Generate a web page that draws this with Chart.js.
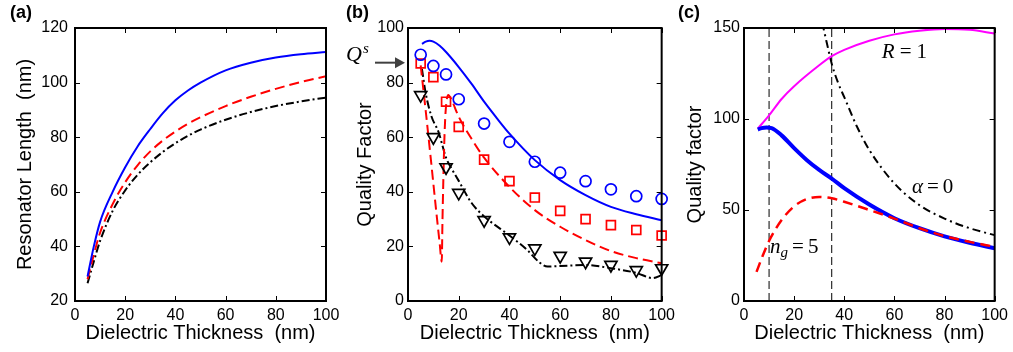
<!DOCTYPE html>
<html lang="en">
<head>
<meta charset="UTF-8">
<title>Resonator length and quality factor vs dielectric thickness</title>
<script src="https://cdn.jsdelivr.net/npm/chart.js"></script>
<style>
  body { margin: 0; background: #fff; }
  #wrap { position: relative; width: 1013px; height: 352px; overflow: hidden; background: #fff; }
  canvas { position: absolute; top: 0; }
  .tag { position: absolute; top: 3px; font: bold 18px/18px "Liberation Sans", Arial, sans-serif; color: #000; }
</style>
</head>
<body>
<div id="wrap">
  <canvas id="chartA" width="345" height="352" style="left:0"></canvas>
  <canvas id="chartB" width="340" height="352" style="left:340px"></canvas>
  <canvas id="chartC" width="343" height="352" style="left:670px"></canvas>
  <div class="tag" style="left:10px">(a)</div>
  <div class="tag" style="left:346px">(b)</div>
  <div class="tag" style="left:678px">(c)</div>
</div>

<script>
// ---- panel (a): resonator length (nm)
const lenX = [5, 7.5, 10, 15, 20, 25, 30, 35, 40, 45, 50, 60, 70, 80, 90, 100];
const lenBlue = [29, 40, 49, 60, 69, 76.7, 83, 88.8, 93.5, 97.1, 100, 104.5, 107.3, 109.2, 110.4, 111.2];
const lenRed = [28, 37, 45, 55.5, 63.5, 69.8, 74.8, 78.8, 82.1, 84.9, 87.3, 91.4, 94.8, 97.7, 100.2, 102.3];
const lenBlack = [26.5, 34.5, 42, 53, 60.5, 66.3, 70.8, 74.6, 77.8, 80.5, 82.8, 86.4, 89.2, 91.4, 93.1, 94.5];

// ---- panel (b): quality factor, curves + simulated points
const qBlueX = [5.5, 7, 8.5, 10, 12.5, 15, 20, 25, 30, 35, 40, 50, 60, 70, 80, 90, 100];
const qBlueY = [94.2, 95, 95.3, 95, 93.5, 91.2, 85.7, 79.6, 73, 67, 61.3, 51.6, 44.3, 38.8, 34.5, 31.8, 29.6];
const qRedX = [5, 7, 9, 11, 12.5, 13.3, 13.6, 13.9, 14.3, 14.8, 15.9, 17, 20, 25, 30, 40, 50, 60, 70, 80, 90, 100];
const qRedY = [86.3, 69.5, 52, 34, 21, 14.4, 30, 43, 58, 69, 75.5, 74, 67.5, 59.5, 52.5, 41.8, 33.3, 27.2, 22.3, 18.3, 15.7, 13.8];
const qBlackX = [5.5, 7, 9.3, 12, 15, 17.5, 20, 25, 30, 40, 47, 52, 55, 60, 70, 80, 90, 96.5, 100];
const qBlackY = [85, 76, 67.5, 62, 52.5, 48, 44, 36, 31, 24, 18.7, 14, 12.6, 12.8, 13.2, 12, 10.3, 8.4, 9.5];

const simX = [5, 10, 15, 20, 30, 40, 50, 60, 70, 80, 90, 100];
const simCircle = [90.2, 86.1, 83, 73.9, 65, 58.3, 51, 47, 43.9, 40.9, 38.4, 37.4];
const simSquare = [87, 82, 73, 63.8, 51.8, 43.9, 37.9, 33, 30, 27.8, 26, 24];
const simTriangle = [75.4, 60, 49, 39.6, 29.6, 23.3, 19.3, 16.5, 14.4, 13.2, 11.3, 12];
const qsLevel = 87.3;

// ---- panel (c): quality factor limits
const cMagX = [5.5, 10, 15, 20, 30, 35, 40, 50, 60, 70, 80, 90, 100];
const cMagY = [94.7, 102, 111, 118, 129.5, 134.5, 138, 143, 146.5, 148.5, 149.5, 149, 147];
const cBlueX = [5.5, 7, 9, 11, 15, 20, 25, 30, 35, 40, 50, 60, 70, 80, 90, 100];
const cBlueY = [94.2, 95, 95.3, 95, 91, 84, 77.5, 72, 67.3, 62, 53, 45.5, 40, 35.5, 32, 29];
const cRedX = [5, 7.5, 10, 15, 20, 25, 30, 35, 40, 50, 60, 70, 80, 90, 100];
const cRedY = [16, 25, 33, 44.5, 52, 56, 57.2, 56.5, 54.5, 50, 45.3, 40, 35.7, 32.5, 29.8];
const cAlphaX = [31.2, 33, 35, 37.5, 40, 45, 50, 60, 70, 80, 90, 100];
const cAlphaY = [153, 142, 130.4, 120, 112, 96, 83, 64.6, 52.7, 45.3, 40, 36.2];
const cMarkX = [10, 35];
const cMarkY = [0, 150];

const sans = '"Liberation Sans", Arial, Helvetica, sans-serif';
const serif = '"Liberation Serif", "Times New Roman", serif';
const tickFont = { family: sans, size: 16 };
const titleFont = { family: sans, size: 20 };

function pts(xs, ys) {
    return xs.map((x, i) => ({ x: x, y: ys[i] }));
}

function curve(xs, ys, color, width, dash) {
    return {
        data: pts(xs, ys), borderColor: color, borderWidth: width, borderDash: dash || [],
        pointRadius: 0, fill: false, cubicInterpolationMode: 'monotone',
        xAxisID: 'x', yAxisID: 'y'
    };
}

function marks(xs, ys, color, style, radius, rotation) {
    return {
        data: pts(xs, ys), showLine: false, borderColor: color, backgroundColor: 'rgba(0,0,0,0)',
        pointBorderColor: color, pointBackgroundColor: 'rgba(0,0,0,0)', pointBorderWidth: 1.7,
        pointStyle: style, pointRadius: radius, pointRotation: rotation || 0, clip: false,
        xAxisID: 'x', yAxisID: 'y'
    };
}

function axes(yMin, yMax, yStep, yTitle, yWidth, yPad, rightWidth) {
    const hidden = { display: false, drawTicks: false };
    return {
        x: {
            type: 'linear', position: 'bottom', min: 0, max: 100,
            grid: hidden, border: { display: false },
            ticks: { stepSize: 20, font: tickFont, color: '#000', padding: 5, maxRotation: 0 },
            title: { display: true, text: 'Dielectric Thickness  (nm)', font: titleFont, color: '#000', padding: 0 },
            afterFit(s) { s.height = 44; }
        },
        y: {
            type: 'linear', position: 'left', min: yMin, max: yMax,
            grid: hidden, border: { display: false },
            ticks: { stepSize: yStep, font: tickFont, color: '#000', padding: yPad },
            title: { display: true, text: yTitle, font: titleFont, color: '#000', padding: 0 },
            afterFit(s) { s.width = yWidth; }
        },
        x2: {
            type: 'linear', position: 'top', grid: hidden, border: { display: false },
            ticks: { display: false }, afterFit(s) { s.height = 28; }
        },
        y2: {
            type: 'linear', position: 'right', grid: hidden, border: { display: false },
            ticks: { display: false }, afterFit(s) { s.width = rightWidth; }
        }
    };
}

// box with inward ticks on all four sides, like the matlab axes
const frame = {
    id: 'frame',
    afterDatasetsDraw(chart) {
        const ctx = chart.ctx, a = chart.chartArea;
        const x = chart.scales.x, y = chart.scales.y;
        ctx.save();
        ctx.strokeStyle = '#000';
        ctx.lineWidth = 1;
        ctx.beginPath();
        x.ticks.forEach(t => {
            const px = Math.round(x.getPixelForValue(t.value)) + 0.5;
            ctx.moveTo(px, a.bottom); ctx.lineTo(px, a.bottom - 5);
            ctx.moveTo(px, a.top); ctx.lineTo(px, a.top + 5);
        });
        y.ticks.forEach(t => {
            const py = Math.round(y.getPixelForValue(t.value)) + 0.5;
            ctx.moveTo(a.left, py); ctx.lineTo(a.left + 5, py);
            ctx.moveTo(a.right, py); ctx.lineTo(a.right - 5, py);
        });
        ctx.stroke();
        ctx.lineWidth = 2;
        ctx.strokeRect(a.left, a.top, a.right - a.left, a.bottom - a.top);
        ctx.restore();
    }
};

// draw a math-like label: pieces of [text, font, dx-before, dy]
function mathText(ctx, x, y, pieces) {
    let cx = x;
    pieces.forEach(p => {
        ctx.font = p[1];
        cx += p[2];
        ctx.fillText(p[0], cx, y + (p[3] || 0));
        cx += ctx.measureText(p[0]).width;
    });
}

const qsArrow = {
    id: 'qsArrow',
    afterDraw(chart) {
        const ctx = chart.ctx, a = chart.chartArea;
        const py = chart.scales.y.getPixelForValue(qsLevel);
        ctx.save();
        ctx.strokeStyle = '#404040';
        ctx.fillStyle = '#404040';
        ctx.lineWidth = 2;
        ctx.beginPath();
        ctx.moveTo(a.left - 33, py); ctx.lineTo(a.left - 12, py);
        ctx.stroke();
        ctx.beginPath();
        ctx.moveTo(a.left - 3, py); ctx.lineTo(a.left - 13, py - 5.5); ctx.lineTo(a.left - 13, py + 5.5);
        ctx.closePath(); ctx.fill();
        ctx.fillStyle = '#000';
        ctx.textBaseline = 'alphabetic';
        mathText(ctx, a.left - 62, py - 2, [['Q', 'italic 22px ' + serif, 0], ['s', 'italic 15px ' + serif, 1, -8]]);
        ctx.restore();
    }
};

const cNotes = {
    id: 'cNotes',
    afterDraw(chart) {
        const ctx = chart.ctx, x = chart.scales.x, y = chart.scales.y;
        const it = 'italic 21px ' + serif, rm = '21px ' + serif;
        ctx.save();
        ctx.fillStyle = '#000';
        ctx.textBaseline = 'alphabetic';
        mathText(ctx, x.getPixelForValue(55), y.getPixelForValue(133.5), [['R', it, 0], ['=', rm, 5], ['1', rm, 5]]);
        mathText(ctx, x.getPixelForValue(67), y.getPixelForValue(59.3), [['\u03B1', it, 0], ['=', rm, 4], ['0', rm, 4]]);
        mathText(ctx, x.getPixelForValue(10.4), y.getPixelForValue(26.4), [['n', it, 0], ['g', 'italic 15px ' + serif, 0, 4], ['=', rm, 4], ['5', rm, 4]]);
        ctx.restore();
    }
};

function baseOptions(scales) {
    return {
        responsive: false,
        animation: false,
        events: [],
        layout: { padding: { left: 13, bottom: 7, top: 0, right: 0 } },
        plugins: { legend: { display: false }, tooltip: { enabled: false } },
        scales: scales
    };
}

new Chart(document.getElementById('chartA'), {
    type: 'line',
    data: {
        datasets: [
            curve(lenX, lenBlue, '#0000ff', 2),
            curve(lenX, lenRed, '#ff0000', 2, [10, 5]),
            curve(lenX, lenBlack, '#000000', 2, [8, 3, 2, 3])
        ]
    },
    options: baseOptions(axes(20, 120, 20, 'Resonator Length  (nm)', 62, 7, 19)),
    plugins: [frame]
});

new Chart(document.getElementById('chartB'), {
    type: 'line',
    data: {
        datasets: [
            marks(simX, simCircle, '#0000ff', 'circle', 5.5),
            marks(simX, simSquare, '#ff0000', 'rect', 6.3),
            marks(simX, simTriangle, '#000000', 'triangle', 7, 180),
            curve(qBlueX, qBlueY, '#0000ff', 2),
            curve(qRedX, qRedY, '#ff0000', 2, [10, 5]),
            curve(qBlackX, qBlackY, '#000000', 2, [8, 3, 2, 3])
        ]
    },
    options: baseOptions(axes(0, 100, 20, 'Quality Factor', 55, 4, 18)),
    plugins: [frame, qsArrow]
});

const markLine = px => Object.assign(curve([px, px], cMarkY, '#000000', 1, [8, 4]), { cubicInterpolationMode: 'default', tension: 0 });

new Chart(document.getElementById('chartC'), {
    type: 'line',
    data: {
        datasets: [
            curve(cRedX, cRedY, '#ff0000', 2.5, [10, 6]),
            curve(cBlueX, cBlueY, '#0000ff', 4),
            curve(cMagX, cMagY, '#ff00ff', 2),
            curve(cAlphaX, cAlphaY, '#000000', 2, [8, 4, 2, 4]),
            ...cMarkX.map(markLine)
        ]
    },
    options: baseOptions(axes(0, 150, 50, 'Quality factor', 61, 4, 17)),
    plugins: [frame, cNotes]
});
</script>
</body>
</html>
